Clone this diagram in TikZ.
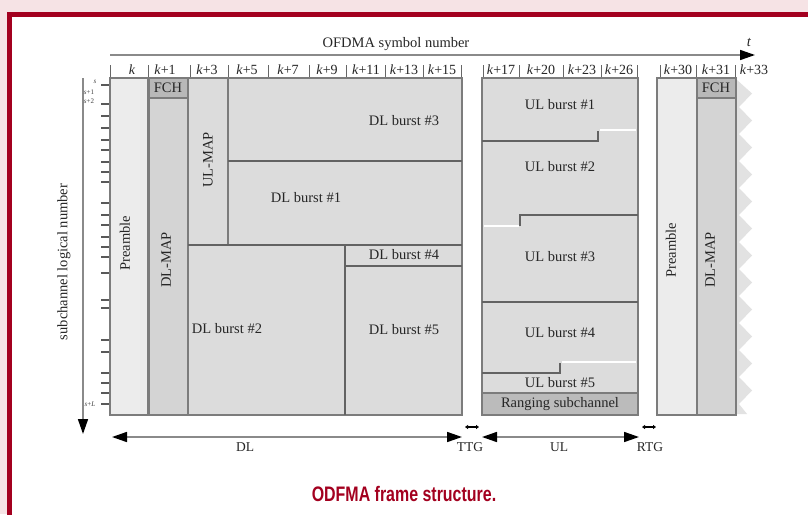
\documentclass[tikz,border=0pt]{standalone}
\usepackage{fontspec}
\setmainfont{Liberation Serif}
\newfontfamily\capfont[FakeStretch=0.76]{Liberation Sans}
\usetikzlibrary{arrows.meta}
\definecolor{bgpink}{HTML}{F6E3E5}
\definecolor{framered}{HTML}{A3001F}
\definecolor{preamblefill}{HTML}{ECECEC}
\definecolor{burstfill}{HTML}{DCDCDC}
\definecolor{mapfill}{HTML}{D4D4D4}
\definecolor{fchfill}{HTML}{B8B8B8}
\definecolor{rangefill}{HTML}{BBBBBB}
\definecolor{zigfill}{HTML}{E2E2E2}
\definecolor{boxline}{HTML}{7C7C7C}
\definecolor{axisline}{HTML}{8A8A8A}
\tikzset{
  box/.style={draw=boxline, line width=1.3pt},
  inner/.style={draw=boxline!80!black, line width=1.3pt},
  gapline/.style={draw=white, line width=1.6pt},
  lbl/.style={inner sep=0pt, text=black!85, font=\fontsize{14.5}{16}\selectfont},
  vlbl/.style={lbl, rotate=90},
  collbl/.style={inner sep=0pt, text=black!85, font=\fontsize{14}{16}\selectfont},
  sep/.style={draw=black!60, line width=0.8pt},
  tick/.style={draw=black!65, line width=1.2pt},
  ticklbl/.style={inner sep=0pt, text=black!75, font=\fontsize{7}{8}\selectfont},
  bigarrow/.style={draw=axisline, line width=1.6pt},
  botlbl/.style={inner sep=0pt, text=black!85, font=\fontsize{13.5}{15}\selectfont},
}
\begin{document}
\begin{tikzpicture}[x=1pt,y=-1pt]
\useasboundingbox (0,0) rectangle (808,514);
\fill[bgpink] (0,0) rectangle (808,514);
\begin{scope}
\clip (0,0) rectangle (808,514);
\fill[white] (9.5,14.5) rectangle (830,530);
\draw[framered, line width=5pt] (9.5,14.5) rectangle (830,530);
\end{scope}

% ---- top axis
\coordinate (axL) at (110,55);
\coordinate (axR) at (755,55);
\draw[bigarrow, -{Triangle[length=15pt,width=10pt,color=black]}] (axL) -- (axR);
\node[lbl] (axtitle) at (396,44) {OFDMA symbol number};
\node[lbl] (tlbl) at (749,42) {\textit{t}};

% ---- column separators and labels
\foreach \xx in {110,148,190,228,268,309,346,385,423,461,483,519,563,601,637,660,696,735}
  \draw[sep] (\xx,65) -- (\xx,78);
\node[collbl] (c0) at (132,70) {\textit{k}};
\node[collbl] (c1) at (165,70) {\textit{k}+1};
\node[collbl] (c3) at (207,70) {\textit{k}+3};
\node[collbl] (c5) at (247,70) {\textit{k}+5};
\node[collbl] (c7) at (288,70) {\textit{k}+7};
\node[collbl] (c9) at (327,70) {\textit{k}+9};
\node[collbl] (c11) at (366,70) {\textit{k}+11};
\node[collbl] (c13) at (404,70) {\textit{k}+13};
\node[collbl] (c15) at (442,70) {\textit{k}+15};
\node[collbl] (c17) at (501,70) {\textit{k}+17};
\node[collbl] (c20) at (541,70) {\textit{k}+20};
\node[collbl] (c23) at (582,70) {\textit{k}+23};
\node[collbl] (c26) at (619,70) {\textit{k}+26};
\node[collbl] (c30) at (678,70) {\textit{k}+30};
\node[collbl] (c31) at (716,70) {\textit{k}+31};
\node[collbl] (c33) at (754,70) {\textit{k}+33};

% ---- left axis
\coordinate (vaT) at (83,78);
\coordinate (vaB) at (83,434);
\draw[bigarrow, -{Triangle[length=15pt,width=10pt,color=black]}] (vaT) -- (vaB);
\node[vlbl] (sublbl) at (64,262) {subchannel logical number};
\foreach \yy in {85,104,116,128,140,150,162,172,182,203,215,225,237,247,257,273,300,308,340,352,373,383,393,404}
  \draw[tick] (101,\yy) -- (109,\yy);
\node[ticklbl] (s0) at (95,82) {\textit{s}};
\node[ticklbl] (s1) at (89,92) {\textit{s}+1};
\node[ticklbl] (s2) at (89,101) {\textit{s}+2};
\node[ticklbl] (sL) at (90,404) {\textit{s}+\textit{L}};

% ---- DL subframe
\draw[box, fill=burstfill] (110,78) rectangle (462,415);
\draw[box, fill=preamblefill] (110,78) rectangle (148,415);
\draw[box, fill=fchfill] (149,78) rectangle (188,98);
\draw[box, fill=mapfill] (149,98) rectangle (188,415);
\draw[box, fill=burstfill] (188,78) rectangle (228,245);
\draw[inner] (228,161) -- (462,161);
\draw[inner] (188,245) -- (462,245);
\draw[inner] (345,245) -- (345,415);
\draw[inner] (345,266) -- (462,266);
\node[vlbl] (pre1) at (125,243) {Preamble};
\node[lbl] (fch1) at (168,88) {FCH};
\node[vlbl] (dlmap1) at (166,260) {DL-MAP};
\node[vlbl] (ulmap) at (208,160) {UL-MAP};
\node[lbl] (dl3) at (404,121) {DL burst \#3};
\node[lbl] (dl1) at (306,198) {DL burst \#1};
\node[lbl] (dl2) at (227,329) {DL burst \#2};
\node[lbl] (dl4) at (404,255) {DL burst \#4};
\node[lbl] (dl5) at (404,330) {DL burst \#5};

% ---- UL subframe
\draw[box, fill=burstfill] (482,78) rectangle (638,415);
\draw[box, fill=rangefill] (482,393) rectangle (638,415);
\draw[inner] (482,141) -- (598,141) -- (598,131);
\draw[gapline] (600,130) -- (636,130);
\draw[gapline] (484,226) -- (519,226);
\draw[inner] (520,226) -- (520,215) -- (638,215);
\draw[inner] (482,302) -- (638,302);
\draw[inner] (482,373) -- (560,373) -- (560,363);
\draw[gapline] (562,362) -- (636,362);
\node[lbl] (ul1) at (560,105) {UL burst \#1};
\node[lbl] (ul2) at (560,167) {UL burst \#2};
\node[lbl] (ul3) at (560,257) {UL burst \#3};
\node[lbl] (ul4) at (560,333) {UL burst \#4};
\node[lbl] (ul5) at (560,383) {UL burst \#5};
\node[lbl] (rng) at (560,404) {Ranging subchannel};

% ---- next frame
\fill[zigfill] (737,80) \foreach \i in {0,...,11} { -- (752,{93.5+\i*27}) -- (739,{107+\i*27}) } -- (747,414) -- (737,414) -- cycle;
\draw[box, fill=preamblefill] (657,78) rectangle (697,415);
\draw[box, fill=fchfill] (697,78) rectangle (736,98);
\draw[box, fill=mapfill] (697,98) rectangle (736,415);
\node[vlbl] (pre2) at (671,250) {Preamble};
\node[lbl] (fch2) at (716,88) {FCH};
\node[vlbl] (dlmap2) at (710,260) {DL-MAP};

% ---- bottom arrows
\coordinate (dlL) at (112,437);
\coordinate (dlR) at (462,437);
\coordinate (ulL) at (482,437);
\coordinate (ulR) at (639,437);
\coordinate (ttgL) at (465,427);
\coordinate (ttgR) at (479,427);
\coordinate (rtgL) at (642,427);
\coordinate (rtgR) at (656,427);
\draw[bigarrow, {Triangle[length=15pt,width=10pt,color=black]}-{Triangle[length=15pt,width=10pt,color=black]}] (dlL) -- (dlR);
\draw[bigarrow, {Triangle[length=15pt,width=10pt,color=black]}-{Triangle[length=15pt,width=10pt,color=black]}] (ulL) -- (ulR);
\draw[black, line width=1.6pt, {Triangle[length=3pt,width=4pt]}-{Triangle[length=3pt,width=4pt]}] (ttgL) -- (ttgR);
\draw[black, line width=1.6pt, {Triangle[length=3pt,width=4pt]}-{Triangle[length=3pt,width=4pt]}] (rtgL) -- (rtgR);
\node[botlbl] (dllbl) at (245,447) {DL};
\node[botlbl] (ttglbl) at (470,447) {TTG};
\node[botlbl] (ullbl) at (559,447) {UL};
\node[botlbl] (rtglbl) at (650,447) {RTG};

% ---- caption
\node[inner sep=0pt, text=framered, font=\capfont\bfseries\fontsize{21}{23}\selectfont] (caption) at (404,494) {ODFMA frame structure.};
\end{tikzpicture}
\end{document}
